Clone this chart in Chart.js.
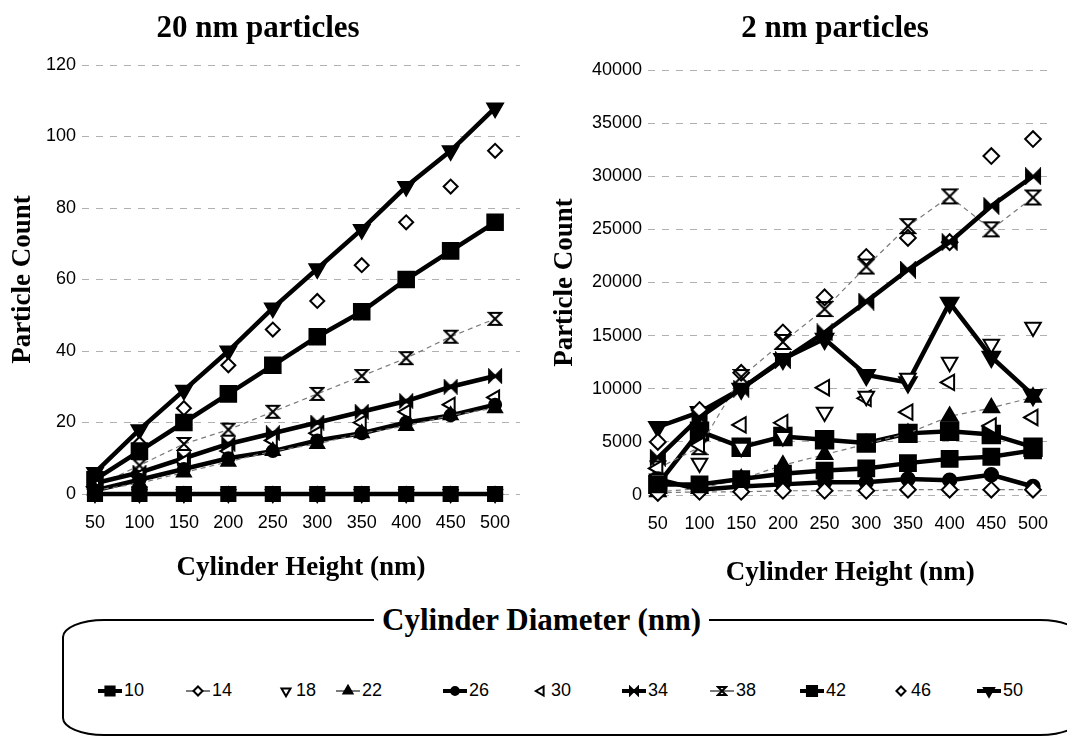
<!DOCTYPE html>
<html>
<head>
<meta charset="utf-8">
<script src="https://cdn.jsdelivr.net/npm/chart.js@4.4.1/dist/chart.umd.min.js"></script>
<style>
  body { margin: 0; background: #fff; width: 1067px; height: 741px; overflow: hidden; position: relative; }
  .panel { position: absolute; top: 0; height: 600px; }
  #leftPanel { left: 0; width: 535px; }
  #rightPanel { left: 535px; width: 532px; }
  .ctitle { position: absolute; top: 9px; width: 320px; text-align: center; line-height: 36px;
            font: bold 31px "Liberation Serif", "Times New Roman", serif; color: #000; }
  fieldset { position: absolute; left: 62px; top: 602px; width: 1016px; height: 130px;
             border: 2px solid #000; border-radius: 42px / 18px; margin: 0; padding: 0; }
  legend { font: bold 31px "Liberation Serif", "Times New Roman", serif; padding: 0 8px;
           margin-left: 310px; line-height: 36px; }
  .item { position: absolute; display: flex; align-items: center;
          font: 18px "Liberation Sans", Arial, sans-serif; color: #000; }
</style>
</head>
<body>
<div class="panel" id="leftPanel"><canvas id="c20" width="535" height="600"></canvas></div>
<div class="panel" id="rightPanel"><canvas id="c2" width="532" height="600"></canvas></div>
<div class="ctitle" style="left:98px">20 nm particles</div>
<div class="ctitle" style="left:675px">2 nm particles</div>
<fieldset><legend>Cylinder Diameter (nm)</legend></fieldset>
<div id="legendItems"></div>

<script>
// ---- data ----
const heights = [50, 100, 150, 200, 250, 300, 350, 400, 450, 500];
const diameters = ['10', '14', '18', '22', '26', '30', '34', '38', '42', '46', '50'];
const ticks20 = [0, 20, 40, 60, 80, 100, 120];
const ticks2 = [0, 5000, 10000, 15000, 20000, 25000, 30000, 35000, 40000];

// 20 nm particles
const p20_d10 = [0, 0, 0, 0, 0, 0, 0, 0, 0, 0];
const p20_d14 = [0, 0, 0, 0, 0, 0, 0, 0, 0, 0];
const p20_d18 = [0, 0, 0, 0, 0, 0, 0, 0, 0, 0];
const p20_d22 = [1, 3, 6, 9, 12, 14, 17, 19, 22, 24];
const p20_d26 = [1, 4, 7, 10, 12, 15, 17, 20, 22, 25];
const p20_d30 = [2, 5, 9, 12, 15, 17, 20, 23, 25, 27];
const p20_d34 = [3, 6, 10, 14, 17, 20, 23, 26, 30, 33];
const p20_d38 = [2, 8, 14, 18, 23, 28, 33, 38, 44, 49];
const p20_d42 = [4, 12, 20, 28, 36, 44, 51, 60, 68, 76];
const p20_d46 = [4, 14, 24, 36, 46, 54, 64, 76, 86, 96];
const p20_d50 = [6, 18, 29, 40, 52, 63, 74, 86, 96, 108];

// 2 nm particles
const p2_d10 = [1000, 1000, 1500, 2000, 2300, 2500, 3000, 3400, 3600, 4200];
const p2_d14 = [200, 300, 300, 400, 400, 400, 500, 500, 500, 500];
const p2_d18 = [1500, 3000, 4500, 5500, 7800, 9300, 11000, 12500, 14200, 15800];
const p2_d22 = [300, 600, 1500, 2800, 3800, 4800, 5800, 7400, 8200, 9200];
const p2_d26 = [1500, 500, 800, 1000, 1200, 1200, 1500, 1400, 1900, 800];
const p2_d30 = [2500, 4700, 6600, 6800, 10100, 9100, 7800, 10600, 6500, 7300];
const p2_d34 = [3500, 7300, 10000, 12700, 15300, 18200, 21200, 23800, 27200, 30000];
const p2_d38 = [2500, 4500, 11100, 14400, 17500, 21500, 25300, 28100, 25000, 28000];
const p2_d42 = [1000, 6000, 4500, 5500, 5200, 4900, 5800, 6000, 5700, 4500];
const p2_d46 = [5000, 8000, 11500, 15300, 18600, 22400, 24200, 23800, 31900, 33500];
const p2_d50 = [6400, 7800, 10000, 12800, 14700, 11300, 10600, 18100, 13000, 9400];

const series20 = [p20_d10, p20_d14, p20_d18, p20_d22, p20_d26, p20_d30, p20_d34, p20_d38, p20_d42, p20_d46, p20_d50];
const series2 = [p2_d10, p2_d14, p2_d18, p2_d22, p2_d26, p2_d30, p2_d34, p2_d38, p2_d42, p2_d46, p2_d50];

// ---- marker / line styles, one per diameter ----
const styles = [
  { shape: 'rect',        rot: 0,   fill: true,  line: 'thick', r: 10 },
  { shape: 'rectRot',     rot: 0,   fill: false, line: 'thin',  r: 7 },
  { shape: 'triangle',    rot: 180, fill: false, line: 'none',  r: 8 },
  { shape: 'triangle',    rot: 0,   fill: true,  line: 'thin',  r: 8 },
  { shape: 'circle',      rot: 0,   fill: true,  line: 'thick', r: 6 },
  { shape: 'triangle',    rot: -90, fill: false, line: 'none',  r: 8 },
  { shape: 'bowtie',      rot: 0,   fill: true,  line: 'thick', r: 8 },
  { shape: 'hourglass',   rot: 0,   fill: false, line: 'thin',  r: 8 },
  { shape: 'rect',        rot: 0,   fill: true,  line: 'thick', r: 11 },
  { shape: 'rectRot',     rot: 0,   fill: false, line: 'none',  r: 7 },
  { shape: 'triangle',    rot: 180, fill: true,  line: 'thick', r: 9 }
];

// Helper: custom glyphs Chart.js has no built-in style for
function shapeCanvas(kind, size) {
  const c = document.createElement('canvas');
  c.width = c.height = size;
  const g = c.getContext('2d');
  const m = 2, s = size - 2;
  g.lineWidth = 2;
  g.strokeStyle = '#000';
  g.fillStyle = '#000';
  g.beginPath();
  if (kind === 'hourglass') {
    g.moveTo(m, m); g.lineTo(s, m); g.lineTo(m, s); g.lineTo(s, s); g.closePath();
    g.stroke();
  } else {
    g.moveTo(m, m); g.lineTo(m, s); g.lineTo(s, m); g.lineTo(s, s); g.closePath();
    g.fill(); g.stroke();
  }
  return c;
}

function pointStyleFor(st, scale) {
  if (st.shape === 'hourglass' || st.shape === 'bowtie') {
    return shapeCanvas(st.shape, Math.round(st.r * 2 * scale));
  }
  return st.shape;
}

function makeDatasets(series, scale) {
  return diameters.map((d, i) => {
    const st = styles[i];
    return {
      label: d,
      data: heights.map((h, j) => ({ x: h, y: series[i][j] })),
      showLine: st.line !== 'none',
      borderColor: st.line === 'thin' ? '#7a7a7a' : '#000',
      borderWidth: st.line === 'thick' ? 4.5 : 1.2,
      borderDash: st.line === 'thin' ? [5, 4] : [],
      tension: 0,
      pointStyle: pointStyleFor(st, scale),
      pointRotation: st.rot,
      pointRadius: st.r * scale,
      pointBackgroundColor: st.fill ? '#000' : '#fff',
      pointBorderColor: '#000',
      pointBorderWidth: 2,
      clip: false
    };
  });
}

const serif = { family: '"Liberation Serif", "Times New Roman", serif', size: 27, weight: 'bold' };
const sans = { family: '"Liberation Sans", Arial, sans-serif', size: 18 };

function makeChart(id, series, cfg) {
  return new Chart(document.getElementById(id), {
    type: 'line',
    data: { datasets: makeDatasets(series, cfg.scale) },
    options: {
      responsive: false,
      animation: false,
      layout: { padding: { top: cfg.top, right: cfg.right, left: 0, bottom: 0 } },
      plugins: { legend: { display: false }, tooltip: { enabled: false } },
      scales: {
        x: {
          type: 'linear',
          min: cfg.xmin, max: cfg.xmax,
          afterBuildTicks: s => { s.ticks = heights.map(v => ({ value: v })); },
          afterFit: s => { s.height = cfg.xh; },
          grid: { display: false, drawTicks: false },
          border: { display: false },
          ticks: { color: '#000', font: sans, padding: 18, autoSkip: false, maxRotation: 0,
                   callback: v => String(v) },
          title: { display: true, text: 'Cylinder Height (nm)', color: '#000', font: serif,
                   padding: { top: 0, bottom: cfg.xtPad } }
        },
        y: {
          min: 0, max: cfg.ymax,
          afterBuildTicks: s => { s.ticks = cfg.yticks.map(v => ({ value: v })); },
          afterFit: s => { s.width = cfg.yw; },
          grid: { color: '#b0b0b0', drawTicks: false },
          border: { display: false, dash: [7, 7] },
          ticks: { color: '#000', font: sans, padding: 6, callback: v => String(v) },
          title: { display: true, text: 'Particle Count', color: '#000', font: serif,
                   padding: { top: cfg.ytPad, bottom: 0 } }
        }
      }
    }
  });
}

makeChart('c20', series20, {
  scale: 1, top: 65, right: 15, xmin: 35.4, xmax: 528, xh: 106, yw: 82,
  xtPad: 16, ytPad: 7, ymax: 120, yticks: ticks20
});
makeChart('c2', series2, {
  scale: 1.12, top: 70, right: 7, xmin: 38.2, xmax: 523.6, xh: 105, yw: 113,
  xtPad: 11, ytPad: 14, ymax: 40000, yticks: ticks2
});

// ---- legend (HTML items with drawn samples) ----
const legendLeft = [98, 186, 278, 336, 443, 533, 622, 710, 800, 893, 977];
const legendBox = document.getElementById('legendItems');
diameters.forEach((d, i) => {
  const st = styles[i];
  const item = document.createElement('div');
  item.className = 'item';
  item.style.left = legendLeft[i] + 'px';
  item.style.top = '680px';
  const w = st.line === 'none' ? 16 : 24;
  const c = document.createElement('canvas');
  c.width = w; c.height = 18;
  const g = c.getContext('2d');
  if (st.line !== 'none') {
    g.strokeStyle = st.line === 'thin' ? '#7a7a7a' : '#000';
    g.lineWidth = st.line === 'thick' ? 4 : 2;
    g.beginPath(); g.moveTo(0, 9); g.lineTo(w, 9); g.stroke();
  }
  g.fillStyle = st.fill ? '#000' : '#fff';
  g.strokeStyle = '#000';
  g.lineWidth = 2;
  Chart.helpers.drawPoint(g, {
    pointStyle: pointStyleFor({ shape: st.shape, r: 6 }, 1),
    rotation: st.rot, radius: st.r * 0.65, borderWidth: 2
  }, w / 2, 9);
  const t = document.createElement('span');
  t.textContent = d;
  t.style.marginLeft = '2px';
  item.appendChild(c);
  item.appendChild(t);
  legendBox.appendChild(item);
});
</script>
</body>
</html>
